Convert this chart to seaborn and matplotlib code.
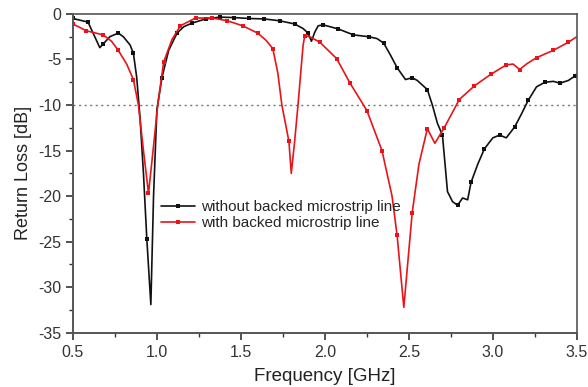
import numpy as np
import matplotlib
matplotlib.use("Agg")
import matplotlib.pyplot as plt
from matplotlib.ticker import MultipleLocator
import seaborn as sns

# without backed microstrip line
f_without = [0.50, 0.59, 0.63, 0.66, 0.68, 0.72, 0.77, 0.80, 0.84, 0.86, 0.88, 0.90, 0.92, 0.94,
             0.964, 0.98, 1.00, 1.03, 1.07, 1.12, 1.16, 1.21, 1.29, 1.375, 1.46, 1.55, 1.64, 1.73,
             1.82, 1.87, 1.90, 1.92, 1.94, 1.96, 1.99, 2.08, 2.17, 2.26, 2.31, 2.35, 2.39, 2.43,
             2.48, 2.52, 2.55, 2.61, 2.64, 2.67, 2.70, 2.73, 2.76, 2.79, 2.82, 2.85, 2.87, 2.91,
             2.95, 3.00, 3.04, 3.08, 3.13, 3.17, 3.21, 3.26, 3.31, 3.36, 3.40, 3.45, 3.49, 3.50]
rl_without = [-0.5, -0.9, -2.5, -3.7, -3.3, -2.5, -2.1, -2.5, -3.4, -4.3, -7.0, -11.5, -17.5, -24.7,
              -31.9, -20.0, -10.5, -7.0, -4.0, -2.1, -1.4, -1.0, -0.55, -0.35, -0.4, -0.5, -0.55, -0.75,
              -1.1, -1.6, -2.1, -3.0, -2.0, -1.3, -1.2, -1.65, -2.3, -2.5, -2.7, -3.2, -4.5, -5.9,
              -7.2, -7.0, -7.3, -8.3, -10.0, -12.0, -13.3, -19.5, -20.6, -21.0, -20.2, -20.4, -18.5, -16.5,
              -14.8, -13.6, -13.3, -13.6, -12.4, -11.0, -9.5, -8.0, -7.5, -7.4, -7.6, -7.3, -6.8, -6.6]
mk_without = [0.50, 0.59, 0.68, 0.77, 0.86, 0.94, 1.03, 1.12, 1.21, 1.29, 1.375, 1.46, 1.55, 1.64,
              1.73, 1.82, 1.90, 1.99, 2.08, 2.17, 2.26, 2.35, 2.43, 2.52, 2.61, 2.70, 2.79, 2.87,
              2.95, 3.04, 3.13, 3.21, 3.31, 3.40, 3.49]

# with backed microstrip line
f_with = [0.50, 0.58, 0.68, 0.73, 0.77, 0.82, 0.86, 0.89, 0.92, 0.95, 0.98, 1.005, 1.04, 1.09,
          1.14, 1.23, 1.33, 1.42, 1.51, 1.60, 1.65, 1.69, 1.72, 1.744, 1.786, 1.80, 1.82, 1.84,
          1.87, 1.88, 1.91, 1.97, 2.07, 2.15, 2.25, 2.34, 2.40, 2.43, 2.47, 2.52, 2.56, 2.61,
          2.655, 2.71, 2.76, 2.80, 2.89, 2.99, 3.08, 3.12, 3.16, 3.20, 3.26, 3.36, 3.45, 3.50]
rl_with = [-1.1, -1.85, -2.3, -3.0, -4.0, -5.5, -7.2, -10.0, -15.0, -19.7, -14.5, -10.0, -5.3, -2.8,
           -1.3, -0.45, -0.45, -0.75, -1.3, -2.1, -2.9, -3.8, -6.5, -10.0, -14.0, -17.5, -14.0, -10.0,
           -3.5, -2.4, -2.5, -3.1, -4.9, -7.6, -10.6, -15.0, -20.0, -24.3, -32.2, -21.8, -16.5, -12.6,
           -14.2, -12.5, -10.8, -9.4, -7.9, -6.6, -5.6, -5.5, -6.1, -5.5, -4.8, -4.0, -3.1, -2.5]
mk_with = [0.50, 0.58, 0.68, 0.77, 0.86, 0.95, 1.04, 1.14, 1.23, 1.33, 1.42, 1.51, 1.60, 1.69,
           1.786, 1.88, 1.97, 2.07, 2.15, 2.25, 2.34, 2.43, 2.52, 2.61, 2.71, 2.80, 2.89, 2.99,
           3.08, 3.16, 3.26, 3.36, 3.45]

sns.set_style("ticks")
plt.rcParams['font.family'] = ['Liberation Sans', 'DejaVu Sans']
plt.rcParams['axes.unicode_minus'] = False

fig = plt.figure(figsize=(5.88, 3.87), dpi=100)
ax = fig.add_axes([0.124, 0.14, 0.857, 0.824])

ax.axhline(-10, color="#777777", lw=1.0, ls=(0, (1.5, 2.5)), zorder=1)

idx_without = list(np.where(np.isin(f_without, mk_without))[0])
idx_with = list(np.where(np.isin(f_with, mk_with))[0])

sns.lineplot(x=f_without, y=rl_without, ax=ax, color="#111111", lw=1.2, marker="s",
             markersize=3.5, markeredgewidth=0, markevery=idx_without,
             label="without backed microstrip line", sort=False)
sns.lineplot(x=f_with, y=rl_with, ax=ax, color="#e8141a", lw=1.2, marker="s",
             markersize=3.5, markeredgewidth=0, markevery=idx_with,
             label="with backed microstrip line", sort=False)

ax.set_xlim(0.5, 3.5)
ax.set_ylim(-35, 0)
ax.xaxis.set_major_locator(MultipleLocator(0.5))
ax.xaxis.set_minor_locator(MultipleLocator(0.25))
ax.yaxis.set_major_locator(MultipleLocator(5))
ax.yaxis.set_minor_locator(MultipleLocator(2.5))
ax.set_xticklabels([f"{v:.1f}" for v in ax.get_xticks()])
ax.tick_params(which="major", direction="out", length=5, width=1.2, labelsize=11.5,
               colors="#333333")
ax.tick_params(which="minor", direction="out", length=3, width=1.0, colors="#333333")

for side in ["left", "bottom"]:
    ax.spines[side].set_linewidth(1.4)
    ax.spines[side].set_color("#555555")
for side in ["top", "right"]:
    ax.spines[side].set_linewidth(1.2)
    ax.spines[side].set_color("#555555")

ax.set_xlabel("Frequency [GHz]", fontsize=13.5, color="#222222", labelpad=6)
ax.set_ylabel("Return Loss [dB]", fontsize=13, color="#222222", labelpad=4)

ax.legend(loc="upper left", bbox_to_anchor=(0.16, 0.44), frameon=False, fontsize=11,
          handlelength=2.2, handletextpad=0.4, labelspacing=0.15, borderpad=0)

fig.savefig("out.png", dpi=100)
